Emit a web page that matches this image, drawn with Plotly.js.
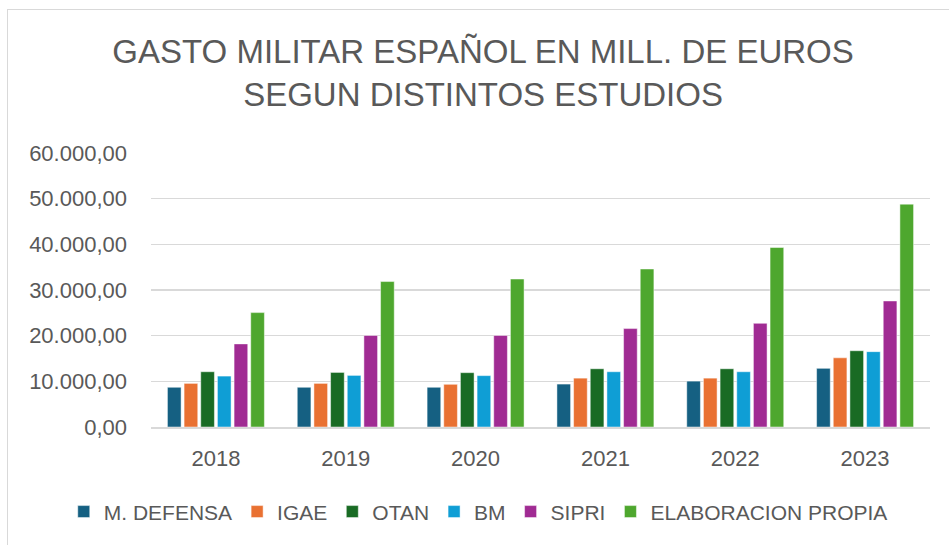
<!DOCTYPE html>
<html>
<head>
<meta charset="utf-8">
<script src="https://cdn.plot.ly/plotly-3.0.1.min.js"></script>
<style>
  html, body { margin: 0; padding: 0; background: #ffffff; }
  #wrap { position: relative; width: 949px; height: 545px; }
  #chart { position: absolute; left: 0; top: 0; width: 949px; height: 545px; }
  #frame { position: absolute; left: 7px; top: 9px; width: 960px; height: 560px;
           border-left: 1.5px solid #d9d9d9; border-top: 1.5px solid #d9d9d9; pointer-events: none; }
</style>
</head>
<body>
<div id="wrap">
  <div id="chart"></div>
  <div id="frame"></div>
</div>
<script>
const years = ['2018', '2019', '2020', '2021', '2022', '2023'];

const mDefensa = [8700, 8700, 8700, 9400, 10050, 12850];
const igae     = [9550, 9550, 9350, 10700, 10700, 15150];
const otan     = [12100, 11950, 11900, 12750, 12750, 16700];
const bm       = [11150, 11300, 11250, 12100, 12100, 16500];
const sipri    = [18200, 20050, 20050, 21550, 22700, 27600];
const elaboracionPropia = [25050, 31850, 32400, 34600, 39300, 48800];

const seriesNames = ['M. DEFENSA', 'IGAE', 'OTAN', 'BM', 'SIPRI', 'ELABORACION PROPIA'];
const seriesValues = [mDefensa, igae, otan, bm, sipri, elaboracionPropia];
const seriesColors = ['#156082', '#E97132', '#196B24', '#0F9ED5', '#A02B93', '#4EA72E'];

const traces = seriesNames.map((name, i) => ({
  type: 'bar',
  name: name,
  x: years,
  y: seriesValues[i],
  marker: { color: seriesColors[i], line: { color: 'rgba(255,255,255,0.6)', width: 0.8 } },
  hoverinfo: 'x+y+name'
}));

const font = 'Liberation Sans, Arial, sans-serif';
const grey = '#595959';

const layout = {
  width: 949,
  height: 545,
  paper_bgcolor: '#ffffff',
  plot_bgcolor: '#ffffff',
  separators: ',.',
  font: { family: font, color: grey, size: 22 },
  title: {
    text: 'GASTO MILITAR ESPAÑOL EN MILL. DE EUROS<br>SEGUN DISTINTOS ESTUDIOS',
    font: { family: font, size: 33, color: grey },
    x: 0.509, xanchor: 'center',
    y: 0.885, yanchor: 'top', yref: 'container'
  },
  margin: { l: 151, r: 19, t: 153, b: 118 },
  barmode: 'group',
  bargap: 0.23,
  bargroupgap: 0.18,
  xaxis: {
    type: 'category',
    showgrid: false,
    showline: true,
    linecolor: '#d9d9d9',
    linewidth: 1.5,
    ticks: '',
    tickfont: { family: font, size: 22, color: grey },
    ticklabelstandoff: 11
  },
  yaxis: {
    range: [0, 60000],
    tickvals: [0, 10000, 20000, 30000, 40000, 50000, 60000],
    tickformat: ',.2f',
    showgrid: true,
    gridcolor: '#d9d9d9',
    gridwidth: 1.5,
    zeroline: false,
    showline: false,
    ticks: '',
    tickfont: { family: font, size: 22, color: grey },
    ticklabelstandoff: 23
  },
  showlegend: true,
  legend: {
    orientation: 'h',
    x: -0.112, xanchor: 'left',
    y: -0.31, yanchor: 'middle',
    font: { family: font, size: 21, color: grey },
    traceorder: 'normal',
    itemwidth: 30
  }
};

Plotly.newPlot('chart', traces, layout, { displayModeBar: false, staticPlot: true });
</script>
</body>
</html>
